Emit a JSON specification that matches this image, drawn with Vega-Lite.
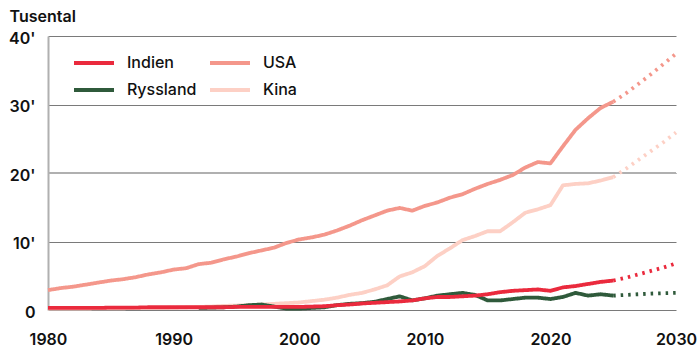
{
  "$schema": "https://vega.github.io/schema/vega-lite/v6.json",
  "width": 628,
  "height": 274,
  "autosize": "none",
  "padding": {"left": 48, "top": 36, "right": 22, "bottom": 41},
  "background": "white",
  "config": {
    "font": "Inter",
    "view": {"stroke": null}
  },
  "datasets": {
    "main": [
      {"year": 1980, "country": "Kina", "value": 0.2, "kind": "Faktisk"},
      {"year": 1981, "country": "Kina", "value": 0.2, "kind": "Faktisk"},
      {"year": 1982, "country": "Kina", "value": 0.2, "kind": "Faktisk"},
      {"year": 1983, "country": "Kina", "value": 0.2, "kind": "Faktisk"},
      {"year": 1984, "country": "Kina", "value": 0.25, "kind": "Faktisk"},
      {"year": 1985, "country": "Kina", "value": 0.25, "kind": "Faktisk"},
      {"year": 1986, "country": "Kina", "value": 0.25, "kind": "Faktisk"},
      {"year": 1987, "country": "Kina", "value": 0.3, "kind": "Faktisk"},
      {"year": 1988, "country": "Kina", "value": 0.3, "kind": "Faktisk"},
      {"year": 1989, "country": "Kina", "value": 0.3, "kind": "Faktisk"},
      {"year": 1990, "country": "Kina", "value": 0.35, "kind": "Faktisk"},
      {"year": 1991, "country": "Kina", "value": 0.4, "kind": "Faktisk"},
      {"year": 1992, "country": "Kina", "value": 0.45, "kind": "Faktisk"},
      {"year": 1993, "country": "Kina", "value": 0.5, "kind": "Faktisk"},
      {"year": 1994, "country": "Kina", "value": 0.6, "kind": "Faktisk"},
      {"year": 1995, "country": "Kina", "value": 0.65, "kind": "Faktisk"},
      {"year": 1996, "country": "Kina", "value": 0.7, "kind": "Faktisk"},
      {"year": 1997, "country": "Kina", "value": 0.8, "kind": "Faktisk"},
      {"year": 1998, "country": "Kina", "value": 0.9, "kind": "Faktisk"},
      {"year": 1999, "country": "Kina", "value": 1.0, "kind": "Faktisk"},
      {"year": 2000, "country": "Kina", "value": 1.1, "kind": "Faktisk"},
      {"year": 2001, "country": "Kina", "value": 1.3, "kind": "Faktisk"},
      {"year": 2002, "country": "Kina", "value": 1.5, "kind": "Faktisk"},
      {"year": 2003, "country": "Kina", "value": 1.8, "kind": "Faktisk"},
      {"year": 2004, "country": "Kina", "value": 2.2, "kind": "Faktisk"},
      {"year": 2005, "country": "Kina", "value": 2.5, "kind": "Faktisk"},
      {"year": 2006, "country": "Kina", "value": 3.0, "kind": "Faktisk"},
      {"year": 2007, "country": "Kina", "value": 3.6, "kind": "Faktisk"},
      {"year": 2008, "country": "Kina", "value": 4.9, "kind": "Faktisk"},
      {"year": 2009, "country": "Kina", "value": 5.5, "kind": "Faktisk"},
      {"year": 2010, "country": "Kina", "value": 6.4, "kind": "Faktisk"},
      {"year": 2011, "country": "Kina", "value": 7.9, "kind": "Faktisk"},
      {"year": 2012, "country": "Kina", "value": 9.0, "kind": "Faktisk"},
      {"year": 2013, "country": "Kina", "value": 10.2, "kind": "Faktisk"},
      {"year": 2014, "country": "Kina", "value": 10.8, "kind": "Faktisk"},
      {"year": 2015, "country": "Kina", "value": 11.5, "kind": "Faktisk"},
      {"year": 2016, "country": "Kina", "value": 11.5, "kind": "Faktisk"},
      {"year": 2017, "country": "Kina", "value": 12.8, "kind": "Faktisk"},
      {"year": 2018, "country": "Kina", "value": 14.2, "kind": "Faktisk"},
      {"year": 2019, "country": "Kina", "value": 14.7, "kind": "Faktisk"},
      {"year": 2020, "country": "Kina", "value": 15.3, "kind": "Faktisk"},
      {"year": 2021, "country": "Kina", "value": 18.2, "kind": "Faktisk"},
      {"year": 2022, "country": "Kina", "value": 18.4, "kind": "Faktisk"},
      {"year": 2023, "country": "Kina", "value": 18.5, "kind": "Faktisk"},
      {"year": 2024, "country": "Kina", "value": 18.9, "kind": "Faktisk"},
      {"year": 2025, "country": "Kina", "value": 19.4, "kind": "Faktisk"},
      {"year": 2025, "country": "Kina", "value": 19.4, "kind": "Prognos"},
      {"year": 2026, "country": "Kina", "value": 20.6, "kind": "Prognos"},
      {"year": 2027, "country": "Kina", "value": 21.9, "kind": "Prognos"},
      {"year": 2028, "country": "Kina", "value": 23.2, "kind": "Prognos"},
      {"year": 2029, "country": "Kina", "value": 24.5, "kind": "Prognos"},
      {"year": 2030, "country": "Kina", "value": 25.9, "kind": "Prognos"},

      {"year": 1980, "country": "USA", "value": 2.9, "kind": "Faktisk"},
      {"year": 1981, "country": "USA", "value": 3.2, "kind": "Faktisk"},
      {"year": 1982, "country": "USA", "value": 3.4, "kind": "Faktisk"},
      {"year": 1983, "country": "USA", "value": 3.7, "kind": "Faktisk"},
      {"year": 1984, "country": "USA", "value": 4.0, "kind": "Faktisk"},
      {"year": 1985, "country": "USA", "value": 4.3, "kind": "Faktisk"},
      {"year": 1986, "country": "USA", "value": 4.5, "kind": "Faktisk"},
      {"year": 1987, "country": "USA", "value": 4.8, "kind": "Faktisk"},
      {"year": 1988, "country": "USA", "value": 5.2, "kind": "Faktisk"},
      {"year": 1989, "country": "USA", "value": 5.5, "kind": "Faktisk"},
      {"year": 1990, "country": "USA", "value": 5.9, "kind": "Faktisk"},
      {"year": 1991, "country": "USA", "value": 6.1, "kind": "Faktisk"},
      {"year": 1992, "country": "USA", "value": 6.7, "kind": "Faktisk"},
      {"year": 1993, "country": "USA", "value": 6.9, "kind": "Faktisk"},
      {"year": 1994, "country": "USA", "value": 7.4, "kind": "Faktisk"},
      {"year": 1995, "country": "USA", "value": 7.8, "kind": "Faktisk"},
      {"year": 1996, "country": "USA", "value": 8.3, "kind": "Faktisk"},
      {"year": 1997, "country": "USA", "value": 8.7, "kind": "Faktisk"},
      {"year": 1998, "country": "USA", "value": 9.1, "kind": "Faktisk"},
      {"year": 1999, "country": "USA", "value": 9.8, "kind": "Faktisk"},
      {"year": 2000, "country": "USA", "value": 10.3, "kind": "Faktisk"},
      {"year": 2001, "country": "USA", "value": 10.6, "kind": "Faktisk"},
      {"year": 2002, "country": "USA", "value": 11.0, "kind": "Faktisk"},
      {"year": 2003, "country": "USA", "value": 11.6, "kind": "Faktisk"},
      {"year": 2004, "country": "USA", "value": 12.3, "kind": "Faktisk"},
      {"year": 2005, "country": "USA", "value": 13.1, "kind": "Faktisk"},
      {"year": 2006, "country": "USA", "value": 13.8, "kind": "Faktisk"},
      {"year": 2007, "country": "USA", "value": 14.5, "kind": "Faktisk"},
      {"year": 2008, "country": "USA", "value": 14.9, "kind": "Faktisk"},
      {"year": 2009, "country": "USA", "value": 14.5, "kind": "Faktisk"},
      {"year": 2010, "country": "USA", "value": 15.2, "kind": "Faktisk"},
      {"year": 2011, "country": "USA", "value": 15.7, "kind": "Faktisk"},
      {"year": 2012, "country": "USA", "value": 16.4, "kind": "Faktisk"},
      {"year": 2013, "country": "USA", "value": 16.9, "kind": "Faktisk"},
      {"year": 2014, "country": "USA", "value": 17.7, "kind": "Faktisk"},
      {"year": 2015, "country": "USA", "value": 18.4, "kind": "Faktisk"},
      {"year": 2016, "country": "USA", "value": 19.0, "kind": "Faktisk"},
      {"year": 2017, "country": "USA", "value": 19.7, "kind": "Faktisk"},
      {"year": 2018, "country": "USA", "value": 20.8, "kind": "Faktisk"},
      {"year": 2019, "country": "USA", "value": 21.6, "kind": "Faktisk"},
      {"year": 2020, "country": "USA", "value": 21.4, "kind": "Faktisk"},
      {"year": 2021, "country": "USA", "value": 23.9, "kind": "Faktisk"},
      {"year": 2022, "country": "USA", "value": 26.3, "kind": "Faktisk"},
      {"year": 2023, "country": "USA", "value": 28.0, "kind": "Faktisk"},
      {"year": 2024, "country": "USA", "value": 29.5, "kind": "Faktisk"},
      {"year": 2025, "country": "USA", "value": 30.4, "kind": "Faktisk"},
      {"year": 2025, "country": "USA", "value": 30.4, "kind": "Prognos"},
      {"year": 2026, "country": "USA", "value": 31.6, "kind": "Prognos"},
      {"year": 2027, "country": "USA", "value": 33.0, "kind": "Prognos"},
      {"year": 2028, "country": "USA", "value": 34.4, "kind": "Prognos"},
      {"year": 2029, "country": "USA", "value": 35.9, "kind": "Prognos"},
      {"year": 2030, "country": "USA", "value": 37.4, "kind": "Prognos"},

      {"year": 1992, "country": "Ryssland", "value": 0.3, "kind": "Faktisk"},
      {"year": 1993, "country": "Ryssland", "value": 0.35, "kind": "Faktisk"},
      {"year": 1994, "country": "Ryssland", "value": 0.4, "kind": "Faktisk"},
      {"year": 1995, "country": "Ryssland", "value": 0.5, "kind": "Faktisk"},
      {"year": 1996, "country": "Ryssland", "value": 0.7, "kind": "Faktisk"},
      {"year": 1997, "country": "Ryssland", "value": 0.8, "kind": "Faktisk"},
      {"year": 1998, "country": "Ryssland", "value": 0.5, "kind": "Faktisk"},
      {"year": 1999, "country": "Ryssland", "value": 0.2, "kind": "Faktisk"},
      {"year": 2000, "country": "Ryssland", "value": 0.2, "kind": "Faktisk"},
      {"year": 2001, "country": "Ryssland", "value": 0.3, "kind": "Faktisk"},
      {"year": 2002, "country": "Ryssland", "value": 0.4, "kind": "Faktisk"},
      {"year": 2003, "country": "Ryssland", "value": 0.7, "kind": "Faktisk"},
      {"year": 2004, "country": "Ryssland", "value": 0.9, "kind": "Faktisk"},
      {"year": 2005, "country": "Ryssland", "value": 1.0, "kind": "Faktisk"},
      {"year": 2006, "country": "Ryssland", "value": 1.2, "kind": "Faktisk"},
      {"year": 2007, "country": "Ryssland", "value": 1.6, "kind": "Faktisk"},
      {"year": 2008, "country": "Ryssland", "value": 2.0, "kind": "Faktisk"},
      {"year": 2009, "country": "Ryssland", "value": 1.4, "kind": "Faktisk"},
      {"year": 2010, "country": "Ryssland", "value": 1.7, "kind": "Faktisk"},
      {"year": 2011, "country": "Ryssland", "value": 2.1, "kind": "Faktisk"},
      {"year": 2012, "country": "Ryssland", "value": 2.3, "kind": "Faktisk"},
      {"year": 2013, "country": "Ryssland", "value": 2.5, "kind": "Faktisk"},
      {"year": 2014, "country": "Ryssland", "value": 2.2, "kind": "Faktisk"},
      {"year": 2015, "country": "Ryssland", "value": 1.4, "kind": "Faktisk"},
      {"year": 2016, "country": "Ryssland", "value": 1.4, "kind": "Faktisk"},
      {"year": 2017, "country": "Ryssland", "value": 1.6, "kind": "Faktisk"},
      {"year": 2018, "country": "Ryssland", "value": 1.8, "kind": "Faktisk"},
      {"year": 2019, "country": "Ryssland", "value": 1.8, "kind": "Faktisk"},
      {"year": 2020, "country": "Ryssland", "value": 1.6, "kind": "Faktisk"},
      {"year": 2021, "country": "Ryssland", "value": 1.9, "kind": "Faktisk"},
      {"year": 2022, "country": "Ryssland", "value": 2.5, "kind": "Faktisk"},
      {"year": 2023, "country": "Ryssland", "value": 2.1, "kind": "Faktisk"},
      {"year": 2024, "country": "Ryssland", "value": 2.3, "kind": "Faktisk"},
      {"year": 2025, "country": "Ryssland", "value": 2.1, "kind": "Faktisk"},
      {"year": 2025, "country": "Ryssland", "value": 2.1, "kind": "Prognos"},
      {"year": 2026, "country": "Ryssland", "value": 2.2, "kind": "Prognos"},
      {"year": 2027, "country": "Ryssland", "value": 2.3, "kind": "Prognos"},
      {"year": 2028, "country": "Ryssland", "value": 2.4, "kind": "Prognos"},
      {"year": 2029, "country": "Ryssland", "value": 2.45, "kind": "Prognos"},
      {"year": 2030, "country": "Ryssland", "value": 2.5, "kind": "Prognos"},

      {"year": 1980, "country": "Indien", "value": 0.3, "kind": "Faktisk"},
      {"year": 1981, "country": "Indien", "value": 0.3, "kind": "Faktisk"},
      {"year": 1982, "country": "Indien", "value": 0.3, "kind": "Faktisk"},
      {"year": 1983, "country": "Indien", "value": 0.3, "kind": "Faktisk"},
      {"year": 1984, "country": "Indien", "value": 0.3, "kind": "Faktisk"},
      {"year": 1985, "country": "Indien", "value": 0.35, "kind": "Faktisk"},
      {"year": 1986, "country": "Indien", "value": 0.35, "kind": "Faktisk"},
      {"year": 1987, "country": "Indien", "value": 0.35, "kind": "Faktisk"},
      {"year": 1988, "country": "Indien", "value": 0.4, "kind": "Faktisk"},
      {"year": 1989, "country": "Indien", "value": 0.4, "kind": "Faktisk"},
      {"year": 1990, "country": "Indien", "value": 0.4, "kind": "Faktisk"},
      {"year": 1991, "country": "Indien", "value": 0.4, "kind": "Faktisk"},
      {"year": 1992, "country": "Indien", "value": 0.4, "kind": "Faktisk"},
      {"year": 1993, "country": "Indien", "value": 0.4, "kind": "Faktisk"},
      {"year": 1994, "country": "Indien", "value": 0.4, "kind": "Faktisk"},
      {"year": 1995, "country": "Indien", "value": 0.45, "kind": "Faktisk"},
      {"year": 1996, "country": "Indien", "value": 0.45, "kind": "Faktisk"},
      {"year": 1997, "country": "Indien", "value": 0.45, "kind": "Faktisk"},
      {"year": 1998, "country": "Indien", "value": 0.45, "kind": "Faktisk"},
      {"year": 1999, "country": "Indien", "value": 0.45, "kind": "Faktisk"},
      {"year": 2000, "country": "Indien", "value": 0.45, "kind": "Faktisk"},
      {"year": 2001, "country": "Indien", "value": 0.5, "kind": "Faktisk"},
      {"year": 2002, "country": "Indien", "value": 0.55, "kind": "Faktisk"},
      {"year": 2003, "country": "Indien", "value": 0.7, "kind": "Faktisk"},
      {"year": 2004, "country": "Indien", "value": 0.8, "kind": "Faktisk"},
      {"year": 2005, "country": "Indien", "value": 0.95, "kind": "Faktisk"},
      {"year": 2006, "country": "Indien", "value": 1.05, "kind": "Faktisk"},
      {"year": 2007, "country": "Indien", "value": 1.15, "kind": "Faktisk"},
      {"year": 2008, "country": "Indien", "value": 1.25, "kind": "Faktisk"},
      {"year": 2009, "country": "Indien", "value": 1.4, "kind": "Faktisk"},
      {"year": 2010, "country": "Indien", "value": 1.7, "kind": "Faktisk"},
      {"year": 2011, "country": "Indien", "value": 1.9, "kind": "Faktisk"},
      {"year": 2012, "country": "Indien", "value": 1.9, "kind": "Faktisk"},
      {"year": 2013, "country": "Indien", "value": 2.0, "kind": "Faktisk"},
      {"year": 2014, "country": "Indien", "value": 2.1, "kind": "Faktisk"},
      {"year": 2015, "country": "Indien", "value": 2.3, "kind": "Faktisk"},
      {"year": 2016, "country": "Indien", "value": 2.6, "kind": "Faktisk"},
      {"year": 2017, "country": "Indien", "value": 2.8, "kind": "Faktisk"},
      {"year": 2018, "country": "Indien", "value": 2.9, "kind": "Faktisk"},
      {"year": 2019, "country": "Indien", "value": 3.0, "kind": "Faktisk"},
      {"year": 2020, "country": "Indien", "value": 2.8, "kind": "Faktisk"},
      {"year": 2021, "country": "Indien", "value": 3.3, "kind": "Faktisk"},
      {"year": 2022, "country": "Indien", "value": 3.5, "kind": "Faktisk"},
      {"year": 2023, "country": "Indien", "value": 3.8, "kind": "Faktisk"},
      {"year": 2024, "country": "Indien", "value": 4.1, "kind": "Faktisk"},
      {"year": 2025, "country": "Indien", "value": 4.3, "kind": "Faktisk"},
      {"year": 2025, "country": "Indien", "value": 4.3, "kind": "Prognos"},
      {"year": 2026, "country": "Indien", "value": 4.7, "kind": "Prognos"},
      {"year": 2027, "country": "Indien", "value": 5.2, "kind": "Prognos"},
      {"year": 2028, "country": "Indien", "value": 5.7, "kind": "Prognos"},
      {"year": 2029, "country": "Indien", "value": 6.2, "kind": "Prognos"},
      {"year": 2030, "country": "Indien", "value": 6.8, "kind": "Prognos"}
    ]
  },
  "data": {"name": "main"},
  "layer": [
    {
      "mark": {"type": "rule", "color": "#b0b0b0", "strokeWidth": 2},
      "encoding": {"y": {"datum": 20, "type": "quantitative", "scale": {"domain": [0, 40], "nice": false}}}
    },
    {
      "mark": {"type": "line", "strokeWidth": 3.8, "strokeCap": "butt", "strokeJoin": "round"},
      "encoding": {
        "x": {
          "field": "year", "type": "quantitative",
          "scale": {"domain": [1980, 2030], "nice": false, "zero": false},
          "axis": {
            "values": [1980, 1990, 2000, 2010, 2020, 2030],
            "format": "d", "title": null, "grid": false, "ticks": false, "domain": false,
            "labelFont": "Inter", "labelFontSize": 16, "labelFontWeight": 600, "labelColor": "#111",
            "labelPadding": 21, "labelBaseline": "top", "labelFlush": false, "labelOverlap": false
          }
        },
        "y": {
          "field": "value", "type": "quantitative",
          "scale": {"domain": [0, 40], "nice": false},
          "axis": {
            "values": [0, 5, 10, 15, 20, 25, 30, 35, 40],
            "labelExpr": "datum.value == 0 ? '0' : (datum.value % 10 == 0 ? datum.value + \"'\" : '')",
            "title": "Tusental", "titleAngle": 0, "titleAlign": "left", "titleBaseline": "alphabetic",
            "titleX": -39, "titleY": -15, "titleFont": "Inter", "titleFontSize": 16, "titleFontWeight": 600, "titleColor": "#111",
            "grid": true, "gridColor": "#7a7a7a", "gridWidth": 1,
            "ticks": false, "domain": true, "domainColor": "#b0b0b0", "domainWidth": 2,
            "labelFont": "Inter", "labelFontSize": 16, "labelFontWeight": 600, "labelColor": "#111",
            "labelPadding": 13, "labelOffset": 2, "labelFlush": false, "labelOverlap": false
          }
        },
        "color": {
          "field": "country", "type": "nominal",
          "scale": {"domain": ["Indien", "Ryssland", "USA", "Kina"], "range": ["#ea2a3d", "#2f5a3b", "#f4978b", "#fdd0c5"]},
          "legend": {
            "title": null, "orient": "none", "legendX": 24, "legendY": 15, "columns": 2,
            "symbolType": "M-1,0L3,0", "symbolSize": 400, "symbolStrokeWidth": 4,
            "labelFont": "Inter", "labelFontSize": 16, "labelFontWeight": 500, "labelColor": "#111",
            "labelOffset": 31, "columnPadding": 5, "rowPadding": 7
          }
        },
        "strokeDash": {
          "field": "kind", "type": "nominal",
          "scale": {"domain": ["Faktisk", "Prognos"], "range": [[1, 0], [2.5, 5]]},
          "legend": null
        },
        "detail": {"field": "kind"}
      }
    }
  ]
}
